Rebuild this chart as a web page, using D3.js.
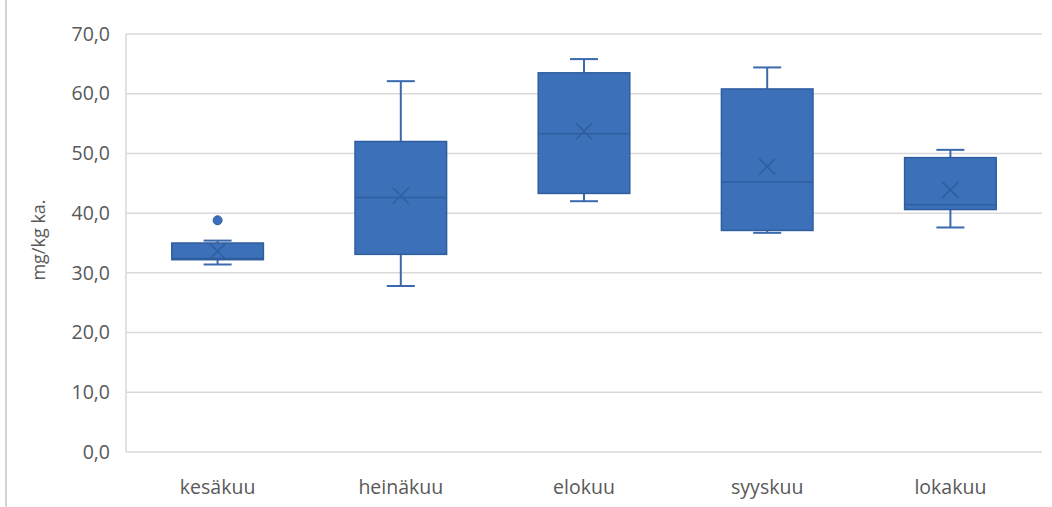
<!DOCTYPE html>
<html>
<head>
<meta charset="utf-8">
<script src="https://cdn.jsdelivr.net/npm/d3@7/dist/d3.min.js"></script>
<style>
  html, body { margin: 0; padding: 0; background: #fff; }
  svg { display: block; }
  text { font-family: "Open Sans", "Noto Sans", sans-serif; fill: #595959; }
</style>
</head>
<body>
<svg id="chart" width="1052" height="507"></svg>
<script>
// Monthly box-plot summaries (mg/kg ka.)
const months   = ["kesäkuu", "heinäkuu", "elokuu", "syyskuu", "lokakuu"];
const whiskLow = [31.4, 27.8, 42.0, 36.7, 37.6];
const q1       = [32.2, 33.1, 43.3, 37.1, 40.6];
const median   = [32.4, 42.6, 53.3, 45.2, 41.4];
const q3       = [35.0, 52.0, 63.5, 60.8, 49.3];
const whiskHi  = [35.4, 62.1, 65.8, 64.4, 50.6];
const means    = [33.6, 42.9, 53.7, 47.8, 43.9];
const outliers = [[38.8], [], [], [], []];
const yTicks   = [0, 10, 20, 30, 40, 50, 60, 70];

const svg = d3.select("#chart");
const plot = { left: 126, right: 1042, top: 34, bottom: 452 };

const x = d3.scaleBand().domain(months).range([plot.left, plot.right]).paddingInner(0).paddingOuter(0);
const y = d3.scaleLinear().domain([0, 70]).range([plot.bottom, plot.top]);
const fmt = v => d3.format(".1f")(v).replace(".", ",");

// chart-area border on the left
svg.append("line").attr("x1", 6).attr("x2", 6).attr("y1", 0).attr("y2", 507)
  .attr("stroke", "#d4d4d4").attr("stroke-width", 2);

// chart title, mostly above the visible area
svg.append("text").attr("x", 328).attr("y", -9).attr("font-size", 20).style("fill", "#404040").text("p");

// gridlines
svg.append("g").selectAll("line").data(yTicks).join("line")
  .attr("x1", plot.left).attr("x2", plot.right)
  .attr("y1", d => y(d)).attr("y2", d => y(d))
  .attr("stroke", "#d9d9d9").attr("stroke-width", 1.5);

// left axis line
svg.append("line").attr("x1", plot.left).attr("x2", plot.left)
  .attr("y1", plot.top).attr("y2", plot.bottom)
  .attr("stroke", "#d9d9d9").attr("stroke-width", 1.5);

// y tick labels
const yAxis = d3.axisLeft(y).tickValues(yTicks).tickFormat(fmt).tickSize(0).tickPadding(16);
const gy = svg.append("g").attr("transform", `translate(${plot.left},0)`).call(yAxis);
gy.select(".domain").remove();
gy.selectAll("text").attr("font-size", 19.5).style("font-family", "'Open Sans', sans-serif").style("fill", "#595959");

// x category labels
const xAxis = d3.axisBottom(x).tickSize(0).tickPadding(28);
const gx = svg.append("g").attr("transform", `translate(0,${plot.bottom})`).call(xAxis);
gx.select(".domain").remove();
gx.selectAll("text").attr("font-size", 19.5).style("font-family", "'Open Sans', sans-serif").style("fill", "#595959");

// y axis title
svg.append("text")
  .attr("transform", `translate(45,${240}) rotate(-90)`)
  .attr("text-anchor", "middle").attr("font-size", 18).text("mg/kg ka.");

const fill = "#3c70b8", stroke = "#2f5e9f", line = "#3a69ad";
const boxW = x.bandwidth() * 0.5, capW = 28;

const g = svg.append("g").selectAll("g").data(months).join("g")
  .attr("transform", d => `translate(${x(d) + x.bandwidth() / 2},0)`);

// whiskers
g.append("line").attr("x1", 0).attr("x2", 0)
  .attr("y1", (d, i) => y(whiskHi[i])).attr("y2", (d, i) => y(q3[i]))
  .attr("stroke", line).attr("stroke-width", 2);
g.append("line").attr("x1", 0).attr("x2", 0)
  .attr("y1", (d, i) => y(q1[i])).attr("y2", (d, i) => y(whiskLow[i]))
  .attr("stroke", line).attr("stroke-width", 2);
g.append("line").attr("x1", -capW / 2).attr("x2", capW / 2)
  .attr("y1", (d, i) => y(whiskHi[i])).attr("y2", (d, i) => y(whiskHi[i]))
  .attr("stroke", line).attr("stroke-width", 2);
g.append("line").attr("x1", -capW / 2).attr("x2", capW / 2)
  .attr("y1", (d, i) => y(whiskLow[i])).attr("y2", (d, i) => y(whiskLow[i]))
  .attr("stroke", line).attr("stroke-width", 2);

// boxes
g.append("rect").attr("x", -boxW / 2).attr("width", boxW)
  .attr("y", (d, i) => y(q3[i])).attr("height", (d, i) => y(q1[i]) - y(q3[i]))
  .attr("fill", fill).attr("stroke", stroke).attr("stroke-width", 1.5);

// median
g.append("line").attr("x1", -boxW / 2).attr("x2", boxW / 2)
  .attr("y1", (d, i) => y(median[i])).attr("y2", (d, i) => y(median[i]))
  .attr("stroke", stroke).attr("stroke-width", 1.5);

// mean markers
const m = 8;
g.append("path")
  .attr("d", (d, i) => { const c = y(means[i]); return `M${-m},${c - m}L${m},${c + m}M${-m},${c + m}L${m},${c - m}`; })
  .attr("stroke", stroke).attr("stroke-width", 1.5).attr("fill", "none");

// outliers
g.each(function (d, i) {
  d3.select(this).selectAll("circle").data(outliers[i]).join("circle")
    .attr("cx", 0).attr("cy", v => y(v)).attr("r", 4.5).attr("fill", fill).attr("stroke", stroke).attr("stroke-width", 1);
});
</script>
</body>
</html>
